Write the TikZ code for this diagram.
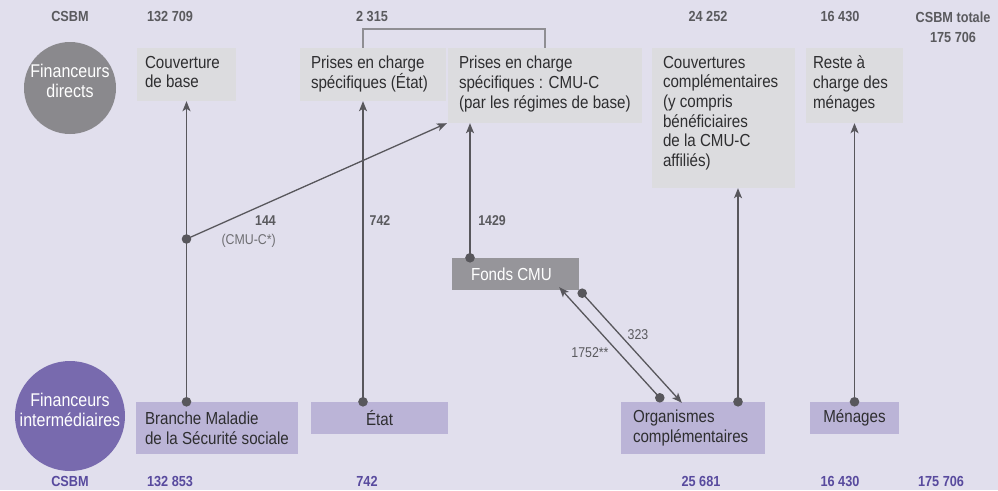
\documentclass[tikz,border=0pt]{standalone}
\usepackage{fontspec}
\setmainfont{Liberation Sans}[FakeStretch=0.87]
\usetikzlibrary{arrows.meta}
\definecolor{bgc}{RGB}{225,223,237}
\definecolor{topgrey}{RGB}{220,220,223}
\definecolor{botlav}{RGB}{187,180,215}
\definecolor{circgrey}{RGB}{138,137,141}
\definecolor{circpurp}{RGB}{120,106,174}
\definecolor{fondsgrey}{RGB}{150,149,154}
\definecolor{txtdark}{RGB}{46,46,48}
\definecolor{numgrey}{RGB}{90,90,94}
\definecolor{numpurp}{RGB}{88,74,158}
\definecolor{linec}{RGB}{88,87,92}
\definecolor{brackc}{RGB}{143,142,147}
\definecolor{lblgrey}{RGB}{110,110,114}
\begin{document}
\begin{tikzpicture}[x=1pt,y=-1pt,
  topbox/.style={fill=topgrey, draw=none, inner sep=0pt},
  botbox/.style={fill=botlav, draw=none, inner sep=0pt},
  boxtxt/.style={inner sep=0pt, align=left, text=txtdark, font=\fontsize{17.4}{19.7}\selectfont},
  circtxt/.style={inner sep=0pt, align=center, text=white, font=\fontsize{18.4}{20}\selectfont},
  topnum/.style={inner sep=0pt, text=numgrey, font=\fontsize{14.6}{19}\selectfont\bfseries, align=center},
  botnum/.style={inner sep=0pt, text=numpurp, font=\fontsize{14.6}{17}\selectfont\bfseries},
  flowlbl/.style={inner sep=0pt, text=numgrey, font=\fontsize{14.2}{16}\selectfont},
  flowlblb/.style={inner sep=0pt, text=numgrey, font=\fontsize{14.2}{16}\selectfont\bfseries},
  arr/.style={draw=linec, line width=1.3pt, -{Stealth[length=10pt,width=8pt,inset=2.5pt]}},
  dotc/.style={fill=linec}
]
\fill[bgc] (0,0) rectangle (998,490);
\useasboundingbox (0,0) rectangle (998,490);

% circles
\node[circle, fill=circgrey, minimum size=92pt, inner sep=0pt] (fd) at (70,88) {};
\node[circtxt] (fdt) at (70,81) {Financeurs\\directs};
\node[circle, fill=circpurp, minimum size=110pt, inner sep=0pt] (fi) at (70,416) {};
\node[circtxt] (fit) at (70,410) {Financeurs\\intermédiaires};

% top boxes
\node[topbox, minimum width=99pt, minimum height=53pt] (cb) at (186.5,74.5) {};
\node[topbox, minimum width=146pt, minimum height=53pt] (pe) at (373,74.5) {};
\node[topbox, minimum width=194pt, minimum height=75pt] (pc) at (545,85.5) {};
\node[topbox, minimum width=143pt, minimum height=140pt] (cc) at (723.5,118) {};
\node[topbox, minimum width=97pt, minimum height=75pt] (rc) at (854.5,85.5) {};

\node[boxtxt, anchor=north west] (cbt) at ([shift={(8,8)}]cb.north west) {Couverture\\de base};
\node[boxtxt, anchor=north west] (pet) at ([shift={(11,8)}]pe.north west) {Prises en charge\\spécifiques (État)};
\node[boxtxt, anchor=north west] (pct) at ([shift={(11,8)}]pc.north west) {Prises en charge\\spécifiques : CMU-C\\(par les régimes de base)};
\node[boxtxt, anchor=north west] (cct) at ([shift={(11,8)}]cc.north west) {Couvertures\\complémentaires\\(y compris\\bénéficiaires\\de la CMU-C\\affiliés)};
\node[boxtxt, anchor=north west] (rct) at ([shift={(7,8)}]rc.north west) {Reste à\\charge des\\ménages};

% bottom boxes
\node[botbox, minimum width=162pt, minimum height=52pt] (bm) at (217,428) {};
\node[botbox, minimum width=137pt, minimum height=32pt] (et) at (379.5,418) {};
\node[botbox, minimum width=144pt, minimum height=52pt] (oc) at (693,428) {};
\node[botbox, minimum width=89pt, minimum height=32pt] (me) at (854.5,418) {};
\node[boxtxt, anchor=west] (bmt) at ([xshift=9pt]bm.west) {Branche Maladie\\de la Sécurité sociale};
\node[boxtxt] (ett) at (et.center) {État};
\node[boxtxt, anchor=west] (oct) at ([xshift=12pt]oc.west) {Organismes\\complémentaires};
\node[boxtxt] (met) at (me.center) {Ménages};

% Fonds CMU
\node[fill=fondsgrey, minimum width=127pt, minimum height=32pt, inner sep=0pt] (fonds) at (515.5,274) {};
\node[boxtxt, text=white, anchor=west] (fondst) at ([xshift=19pt]fonds.west) {Fonds CMU};

% header numbers
\node[topnum] (h1) at (70,16) {CSBM};
\node[topnum] (h2) at (170,16) {132 709};
\node[topnum] (h3) at (372,16) {2 315};
\node[topnum] (h4) at (708,16) {24 252};
\node[topnum] (h5) at (840,16) {16 430};
\node[topnum] (h6) at (953,17) {CSBM totale};
\node[topnum] (h7) at (953,37) {175 706};

% footer numbers
\node[botnum] (f1) at (70,481) {CSBM};
\node[botnum] (f2) at (170,481) {132 853};
\node[botnum] (f3) at (367,481) {742};
\node[botnum] (f4) at (701,481) {25 681};
\node[botnum] (f5) at (840,481) {16 430};
\node[botnum] (f6) at (941,481) {175 706};

% helper coordinates
\coordinate (xE) at (363,0);
\coordinate (xF) at (470,0);
\coordinate (xC) at (738,0);
\coordinate (j144) at (186.5,239);
\coordinate (a1) at ([shift={(39,-4)}]oc.north west);
\coordinate (a1e) at ([shift={(-20,-3)}]fonds.south east);
\coordinate (b1) at ([shift={(3,3)}]fonds.south east);
\coordinate (b1e) at ([shift={(61,1)}]oc.north west);
\coordinate (pcend) at ([xshift=-1pt]pc.south west);
\coordinate (brk) at (0,29);

% bracket
\draw[brackc, line width=1.2pt] (xE |- pe.north) -- (xE |- brk) -| (pc.north);

% connectors
\draw[arr] (cb.south |- bm.north) -- (cb.south);
\draw[arr] (xE |- et.north) -- (xE |- pe.south);
\draw[arr] (xF |- fonds.north) -- (xF |- pc.south);
\draw[arr] (xC |- oc.north) -- (xC |- cc.south);
\draw[arr] (rc.south |- me.north) -- (rc.south);
\draw[arr] (j144) -- (pcend);
\draw[arr] (a1) -- (a1e);
\draw[arr] (b1) -- (b1e);

% dots
\fill[dotc] (cb.south |- bm.north) circle (4.8pt);
\fill[dotc] (j144) circle (4.8pt);
\fill[dotc] (xE |- et.north) circle (4.8pt);
\fill[dotc] (xF |- fonds.north) circle (4.8pt);
\fill[dotc] (xC |- oc.north) circle (4.8pt);
\fill[dotc] (rc.south |- me.north) circle (4.8pt);
\fill[dotc] (a1) circle (4.8pt);
\fill[dotc] (b1) circle (4.8pt);

% flow labels
\node[flowlblb, anchor=east] (l144) at (276,221) {144};
\node[flowlbl, anchor=east, text=lblgrey] (lcmu) at (276,241) {(CMU-C*)};
\node[flowlblb] (l742) at (380,221) {742};
\node[flowlblb] (l1429) at (492,221) {1429};
\node[flowlbl] (l1752) at (590,353) {1752**};
\node[flowlbl] (l323) at (638,335) {323};
\end{tikzpicture}
\end{document}
